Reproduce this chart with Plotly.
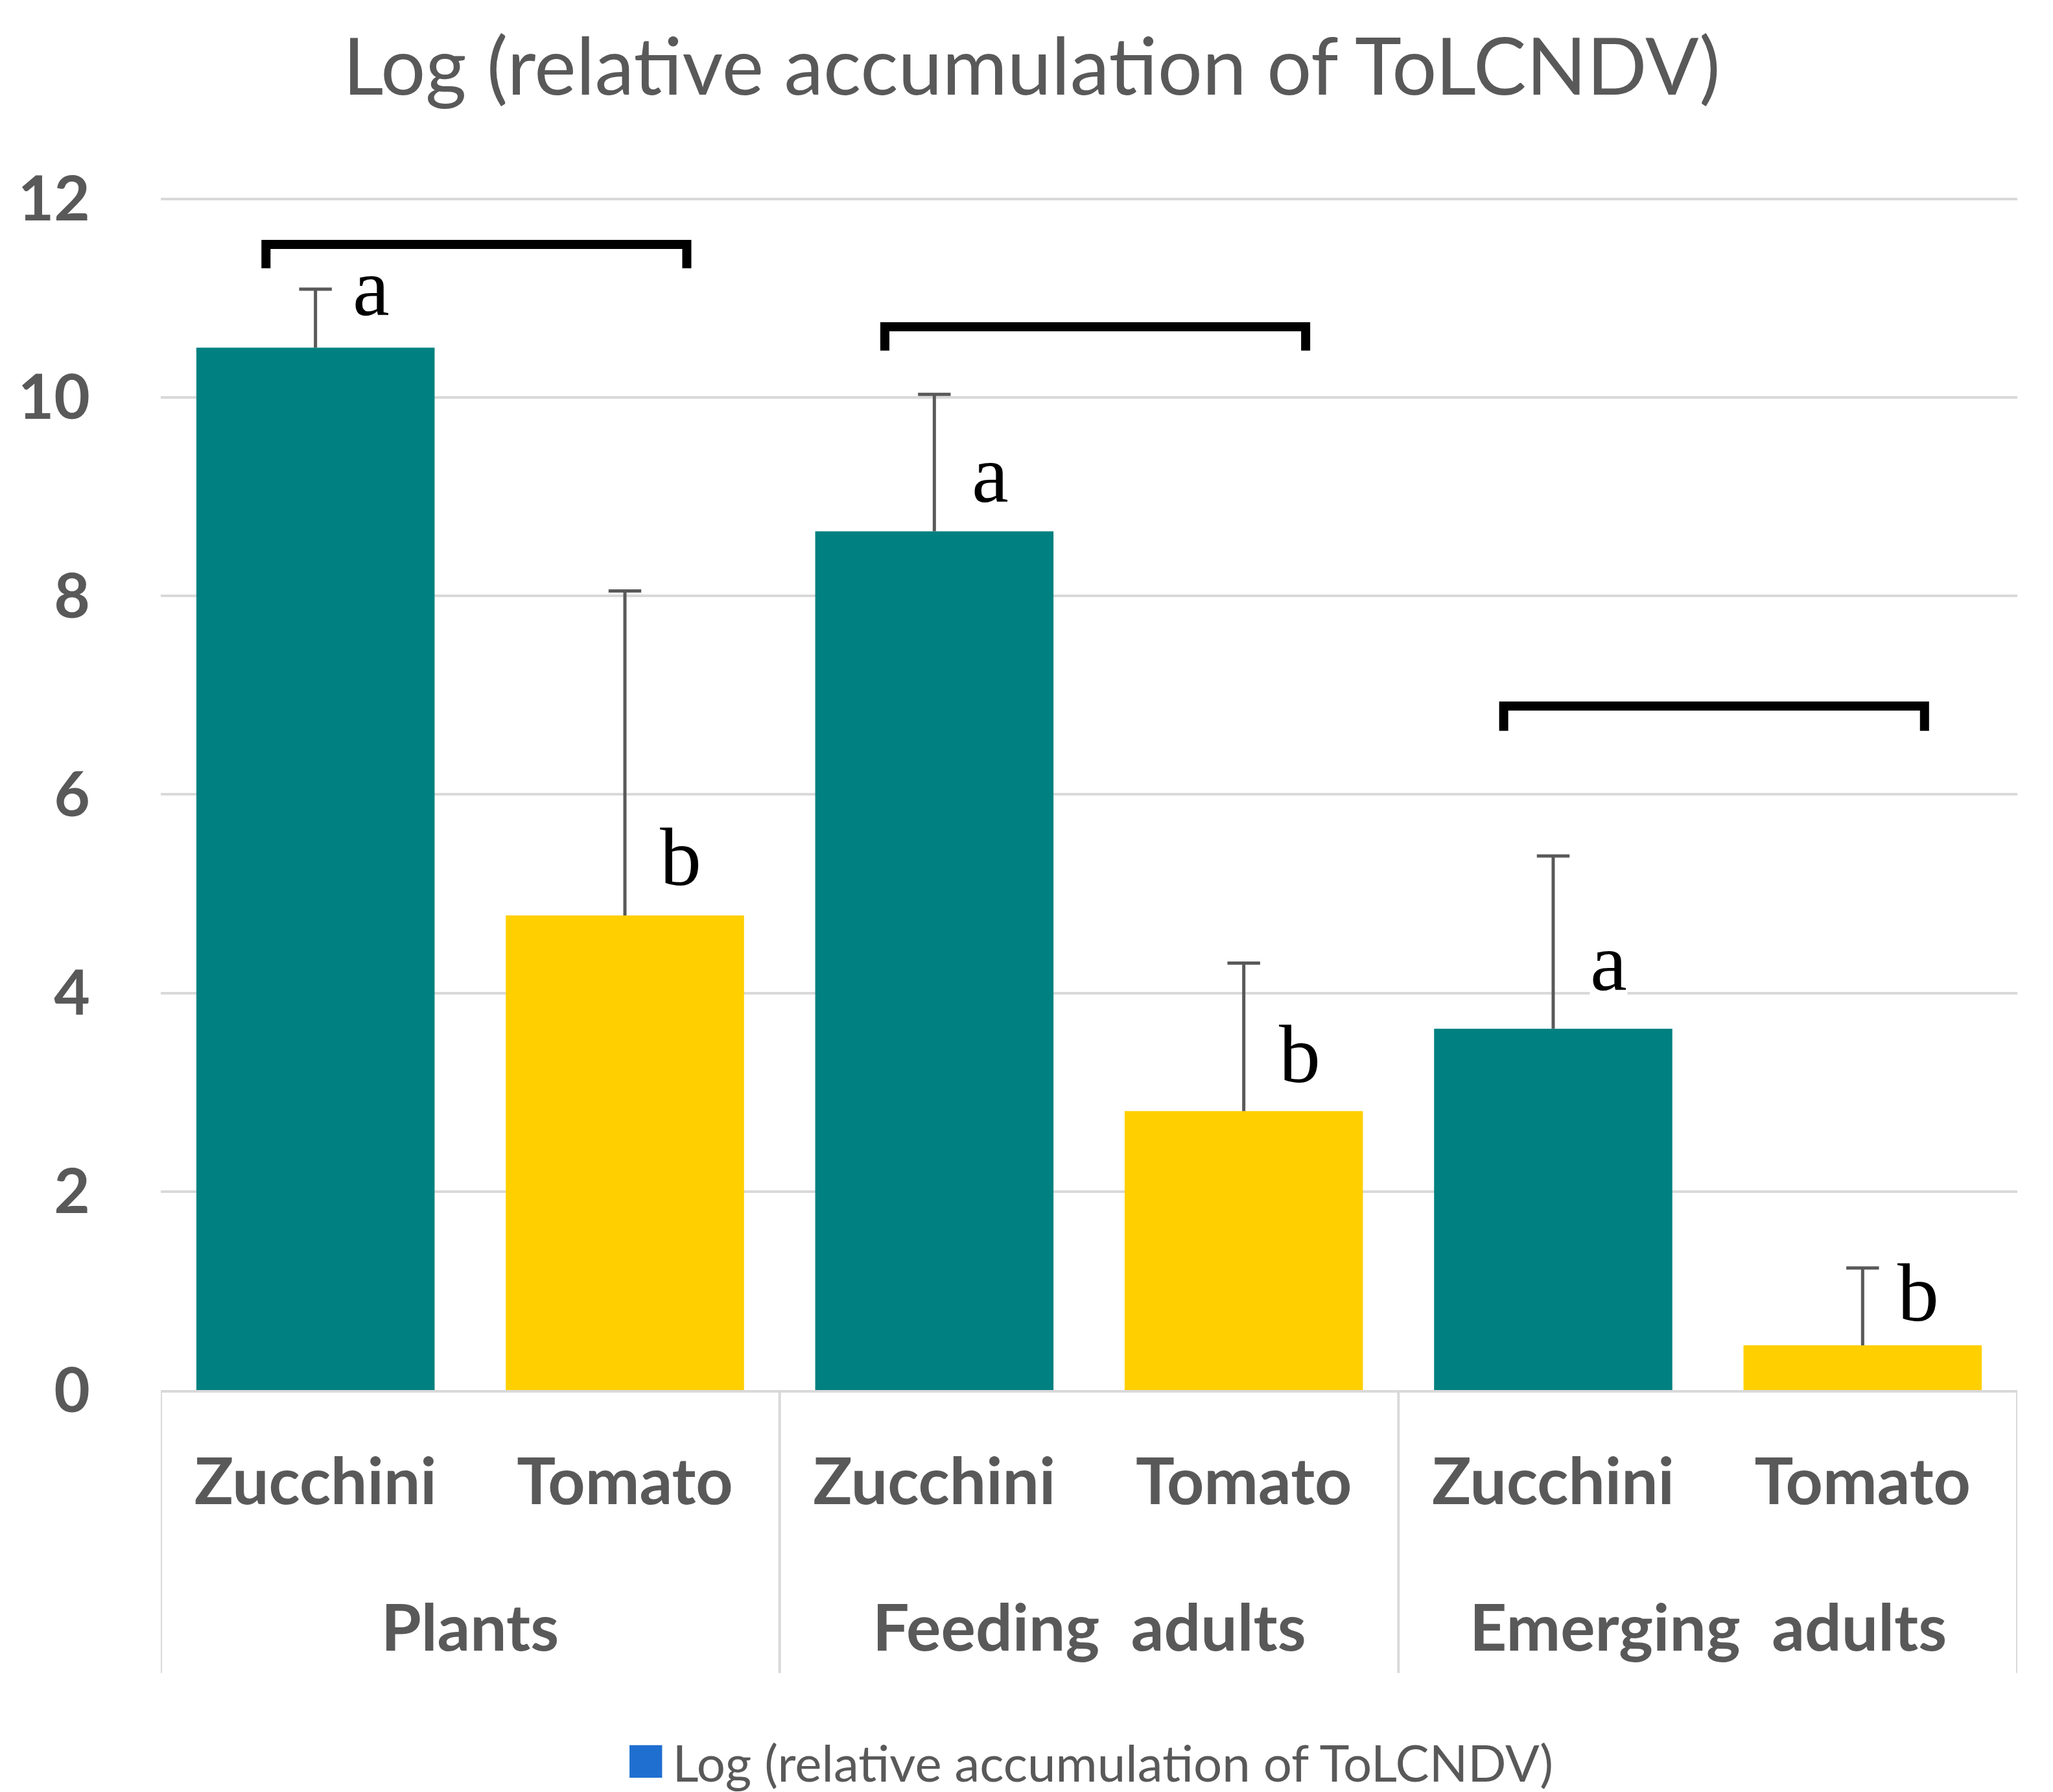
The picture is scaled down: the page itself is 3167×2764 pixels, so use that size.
import plotly.graph_objects as go

# ---- data ----
groups = ["Plants", "Feeding  adults", "Emerging  adults"]
hosts = ["Zucchini", "Tomato", "Zucchini", "Tomato", "Zucchini", "Tomato"]
means = [10.50, 4.78, 8.65, 2.81, 3.64, 0.45]
err_plus = [0.59, 3.27, 1.38, 1.49, 1.74, 0.78]
letters = ["a", "b", "a", "b", "a", "b"]
letter_y = [11.11, 5.37, 9.23, 3.38, 4.31, 0.98]
bracket_top = [11.54, 10.71, 6.89]
bracket_end = [11.30, 10.47, 6.64]
y_ticks = [0, 2, 4, 6, 8, 10, 12]
series_name = "Log (relative accumulation of ToLCNDV)"

host_colors = {"Zucchini": "#008080", "Tomato": "#FFCF00"}
bar_colors = [host_colors[h] for h in hosts]
xpos = list(range(len(means)))
grey = "#595959"
light = "#D9D9D9"

fig = go.Figure()
fig.add_trace(go.Bar(
    x=xpos, y=means, width=0.77,
    marker=dict(color=bar_colors, line=dict(width=0)),
    error_y=dict(type="data", symmetric=False, array=err_plus,
                 arrayminus=[0] * len(means),
                 color=grey, thickness=5, width=0),
    showlegend=False, name=series_name,
))
# caps of the upper error bars
fig.add_trace(go.Scatter(
    x=xpos, y=[m + e for m, e in zip(means, err_plus)], mode="markers",
    marker=dict(symbol="line-ew", size=36, line=dict(color=grey, width=5)),
    showlegend=False, hoverinfo="skip",
))

annotations = []
shapes = []

n_per_group = len(hosts) // len(groups)

# significance letters
for i, (lt, ly) in enumerate(zip(letters, letter_y)):
    g = i // n_per_group
    near_bracket = bracket_end[g] - ly < 0.6
    annotations.append(dict(
        x=i + 0.18, y=ly, xref="x", yref="y", text=lt, showarrow=False,
        font=dict(family="Liberation Serif", size=128, color="black"),
        bgcolor="rgba(255,255,255,0)" if near_bracket else "white",
        xanchor="center", yanchor="middle", borderpad=0,
    ))

# brackets over each group
for g, (yt, ye) in enumerate(zip(bracket_top, bracket_end)):
    x0 = g * n_per_group - 0.16
    x1 = g * n_per_group + 1.2
    shapes.append(dict(
        type="path", xref="x", yref="y",
        path=f"M {x0},{ye} L {x0},{yt} L {x1},{yt} L {x1},{ye}",
        line=dict(color="black", width=14),
    ))

# group labels and dividers
for g, name in enumerate(groups):
    xc = g * n_per_group + (n_per_group - 1) / 2
    annotations.append(dict(
        x=xc, y=-0.197, xref="x", yref="paper", text=name, showarrow=False,
        font=dict(family="Lato", size=100, color=grey, weight="bold"),
        xanchor="center", yanchor="middle",
    ))
for g in range(len(groups) + 1):
    xb = g * n_per_group - 0.5
    shapes.append(dict(
        type="line", xref="x", yref="paper", x0=xb, x1=xb, y0=0, y1=-0.237,
        line=dict(color=light, width=4),
    ))

# legend (as text row)
annotations.append(dict(
    x=0.5, y=-0.306, xref="paper", yref="paper", showarrow=False,
    text=(f"<span style='color:#1F6FD0;font-size:104px'>\u25A0</span>"
          f"\u2009{series_name}"),
    font=dict(family="Lato", size=78, color=grey),
    xanchor="center", yanchor="middle",
))

fig.update_layout(
    width=3167, height=2764,
    margin=dict(l=240, r=63, t=294, b=628),
    paper_bgcolor="white", plot_bgcolor="white",
    title=dict(text=series_name, x=0.5, xanchor="center", y=1 - 95 / 2764,
               yanchor="middle", yref="container",
               font=dict(family="Lato", size=122, color=grey)),
    xaxis=dict(range=[-0.5, len(means) - 0.5], tickvals=xpos, ticktext=hosts,
               showgrid=False, zeroline=False, showline=True,
               linecolor=light, linewidth=4, ticks="",
               ticklabelstandoff=52,
               tickfont=dict(family="Lato", size=100, color=grey, weight="bold")),
    yaxis=dict(range=[0, 12.03], tickvals=y_ticks, showgrid=True,
               gridcolor=light, gridwidth=4, zeroline=False, showline=False,
               ticks="", ticklabelstandoff=108,
               tickfont=dict(family="Lato", size=96, color=grey, weight="bold")),
    annotations=annotations, shapes=shapes, bargap=0.23,
)

fig.write_html("out.html")
